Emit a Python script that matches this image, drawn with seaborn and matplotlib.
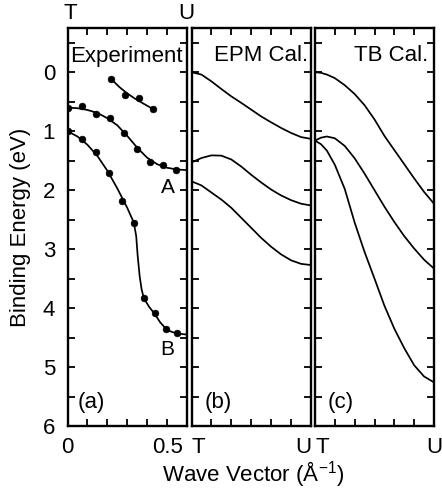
import numpy as np
import pandas as pd
import seaborn as sns
import matplotlib.pyplot as plt
from matplotlib.ticker import MultipleLocator

# (a) experiment: measured points, k in 1/Angstrom, binding energy in eV
top_k = [0.218, 0.29, 0.36, 0.427]
top_e = [0.11, 0.39, 0.43, 0.62]
a_k = [0.0, 0.074, 0.144, 0.213, 0.283, 0.349, 0.413, 0.479, 0.546]
a_e = [0.61, 0.58, 0.71, 0.78, 1.03, 1.30, 1.53, 1.58, 1.65]
b_k = [0.0, 0.074, 0.141, 0.208, 0.274, 0.333, 0.383, 0.438, 0.494, 0.549]
b_e = [1.0, 1.14, 1.35, 1.71, 2.18, 2.55, 3.83, 4.09, 4.35, 4.42]

# guide lines drawn through the measured points
top_fit_k = [0.218, 0.26, 0.30, 0.34, 0.38, 0.427]
top_fit_e = [0.11, 0.25, 0.36, 0.45, 0.53, 0.62]
a_fit_k = [0.0, 0.05, 0.1, 0.15, 0.2, 0.25, 0.3, 0.35, 0.4, 0.45, 0.5, 0.55, 0.6]
a_fit_e = [0.60, 0.61, 0.64, 0.69, 0.78, 0.90, 1.08, 1.28, 1.45, 1.56, 1.62, 1.65, 1.66]
b_fit_k = [0.0, 0.05, 0.1, 0.15, 0.2, 0.25, 0.3, 0.333, 0.345, 0.352, 0.362, 0.372,
           0.383, 0.41, 0.438, 0.465, 0.494, 0.52, 0.549, 0.6]
b_fit_e = [1.0, 1.09, 1.23, 1.42, 1.67, 1.97, 2.3, 2.55, 2.78, 3.1, 3.45, 3.68,
           3.83, 3.98, 4.1, 4.24, 4.35, 4.4, 4.43, 4.45]

# (b) EPM and (c) TB bands along T -> U
calc_k = [0.0, 0.05, 0.1, 0.15, 0.2, 0.25, 0.3, 0.35, 0.4, 0.45, 0.5, 0.55, 0.6]
epm_1 = [0.0, 0.04, 0.155, 0.285, 0.41, 0.52, 0.635, 0.75, 0.85, 0.945, 1.03, 1.1, 1.13]
epm_2 = [1.53, 1.455, 1.41, 1.415, 1.48, 1.6, 1.74, 1.87, 1.99, 2.09, 2.17, 2.23, 2.26]
epm_3 = [1.85, 1.92, 2.04, 2.16, 2.3, 2.47, 2.64, 2.81, 2.96, 3.09, 3.19, 3.25, 3.27]

tb_k = [0.0, 0.03, 0.06, 0.1, 0.15, 0.2, 0.25, 0.3, 0.35, 0.4, 0.45, 0.5, 0.55, 0.6]
tb_1 = [0.0, 0.01, 0.04, 0.1, 0.22, 0.37, 0.56, 0.8, 1.08, 1.32, 1.56, 1.8, 2.03, 2.23]
tb_2 = [1.16, 1.11, 1.09, 1.12, 1.25, 1.46, 1.72, 2.0, 2.28, 2.54, 2.78, 2.99, 3.18, 3.33]
tb_3 = [1.16, 1.22, 1.33, 1.57, 1.98, 2.55, 3.05, 3.5, 3.96, 4.35, 4.68, 4.97, 5.16, 5.26]

sns.set_style("ticks")
plt.rcParams['font.family'] = ['Liberation Sans', 'DejaVu Sans']
plt.rcParams['font.size'] = 16
plt.rcParams['text.color'] = 'black'
plt.rcParams['axes.labelcolor'] = 'black'
plt.rcParams['xtick.color'] = 'black'
plt.rcParams['ytick.color'] = 'black'

fig = plt.figure(figsize=(4.42, 4.91), dpi=100)
bottom, height = 65 / 491, 398 / 491
ax_a = fig.add_axes([67.5 / 442, bottom, 119.5 / 442, height])
ax_b = fig.add_axes([191.5 / 442, bottom, 119.5 / 442, height])
ax_c = fig.add_axes([315 / 442, bottom, 119 / 442, height])

lw = 1.25
for k, e in [(top_fit_k, top_fit_e), (a_fit_k, a_fit_e), (b_fit_k, b_fit_e)]:
    sns.lineplot(x=k, y=e, ax=ax_a, color="black", lw=lw, sort=False, estimator=None)
for k, e in [(top_k, top_e), (a_k, a_e), (b_k, b_e)]:
    sns.scatterplot(x=k, y=e, ax=ax_a, color="black", s=24, edgecolor="black", zorder=3)

for band in [epm_1, epm_2, epm_3]:
    sns.lineplot(x=calc_k, y=band, ax=ax_b, color="black", lw=lw, sort=False, estimator=None)
for band in [tb_1, tb_2, tb_3]:
    sns.lineplot(x=tb_k, y=band, ax=ax_c, color="black", lw=lw, sort=False, estimator=None)

for ax in [ax_a, ax_b, ax_c]:
    ax.set_xlim(0, 0.6)
    ax.set_ylim(6, -0.75)
    ax.yaxis.set_major_locator(MultipleLocator(1))
    ax.yaxis.set_minor_locator(MultipleLocator(0.5))
    ax.xaxis.set_minor_locator(MultipleLocator(0.1))
    ax.tick_params(which="both", direction="in", top=True, right=True,
                   length=5, width=1.3, colors="black", labelsize=16)
    ax.tick_params(axis="x", pad=8)
    ax.tick_params(axis="y", pad=9)
    for s in ax.spines.values():
        s.set_linewidth(1.7)
        s.set_color("black")
    ax.set_xlabel("")
    ax.set_ylabel("")

ax_a.set_xticks([0, 0.5])
ax_a.set_xticklabels(["0", "0.5"])
ax_a.set_yticks([0, 1, 2, 3, 4, 5, 6])
ax_a.set_ylabel("Binding Energy (eV)", fontsize=16, labelpad=8)

for ax, lab in [(ax_b, "EPM Cal."), (ax_c, "TB Cal.")]:
    ax.set_xticks([0, 0.6])
    ax.set_xticklabels(["T", "U"])
    ax.set_yticks([0, 1, 2, 3, 4, 5, 6])
    ax.set_yticklabels([])
ax_b.get_xticklabels()[0].set_ha("left")
ax_b.get_xticklabels()[1].set_ha("right")
ax_c.get_xticklabels()[0].set_ha("left")

ax_a.text(0.02, 0.928, "Experiment", transform=ax_a.transAxes, ha="left", va="center")
ax_b.text(0.975, 0.93, "EPM Cal.", transform=ax_b.transAxes, ha="right", va="center")
ax_c.text(0.95, 0.93, "TB Cal.", transform=ax_c.transAxes, ha="right", va="center")
ax_a.text(0.088, 0.059, "(a)", transform=ax_a.transAxes, ha="left", va="center")
ax_b.text(0.113, 0.059, "(b)", transform=ax_b.transAxes, ha="left", va="center")
ax_c.text(0.109, 0.059, "(c)", transform=ax_c.transAxes, ha="left", va="center")
ax_a.text(0.505, 1.95, "A", ha="center", va="center", fontsize=15)
ax_a.text(0.5, 4.70, "B", ha="center", va="center", fontsize=15)

fig.text(70.5 / 442, 1 - 13.5 / 491, "T", ha="center", va="center", fontsize=16)
fig.text(186 / 442, 1 - 13.5 / 491, "U", ha="center", va="center", fontsize=16)
fig.text(253 / 442, 1 - 474 / 491, "Wave Vector (Å$^{\\mathregular{-1}}$)",
         ha="center", va="center", fontsize=16)

fig.savefig("out.png", dpi=100)
